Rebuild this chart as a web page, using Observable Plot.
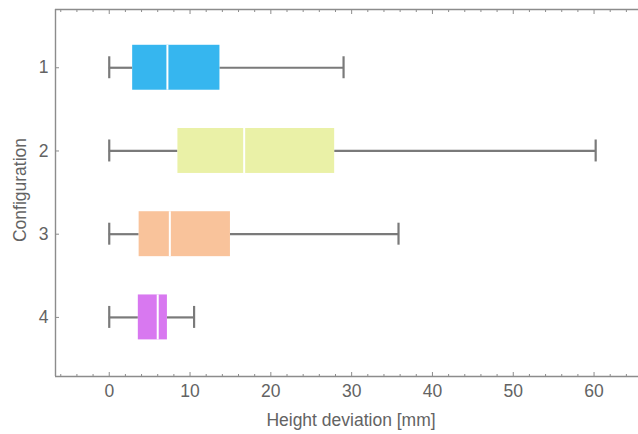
<!DOCTYPE html>
<html>
<head>
<meta charset="utf-8">
<script src="https://cdn.jsdelivr.net/npm/d3@7"></script>
<script src="https://cdn.jsdelivr.net/npm/@observablehq/plot@0.6"></script>
<style>
  html, body { margin: 0; padding: 0; background: #fff; }
</style>
</head>
<body>
<div id="chart"></div>
<script>
// Data
const configs = [1, 2, 3, 4];
const mins = [0, 0, 0, 0];
const q1s = [2.9, 8.5, 3.7, 3.6];
const medians = [7.2, 16.7, 7.5, 6.0];
const q3s = [13.7, 27.9, 15.0, 7.2];
const maxs = [29.0, 60.2, 35.8, 10.5];
const colors = ["#36b6ef", "#eaf1a7", "#f9c39b", "#d878f0"];

const xMajorTicks = [0, 10, 20, 30, 40, 50, 60];
const xMinorTicks = [-6, -4, -2, 2, 4, 6, 8, 12, 14, 16, 18, 22, 24, 26, 28, 32, 34, 36, 38, 42, 44, 46, 48, 52, 54, 56, 58, 62, 64];
const yTicks = [1, 2, 3, 4];

const xTitle = "Height deviation [mm]";
const yTitle = "Configuration";

const data = configs.map((c, i) => ({
  cfg: c, min: mins[i], q1: q1s[i], median: medians[i], q3: q3s[i], max: maxs[i], color: colors[i]
}));

const xDomain = [-6.65, 65.5];
const yDomain = [4.71, 0.3];
const boxHalf = 0.27;
const capHalf = 0.132;
const axisColor = "#8c8c8c";
const textColor = "#636363";
const whiskerColor = "#7a7a7a";
const fs = 17.5;

const chart = Plot.plot({
  width: 638,
  height: 434,
  marginLeft: 55,
  marginRight: 0,
  marginTop: 9,
  marginBottom: 58,
  style: { fontFamily: "'Liberation Sans', Arial, sans-serif", fontSize: fs + "px", background: "#fff" },
  x: { domain: xDomain, axis: null },
  y: { domain: yDomain, axis: null },
  color: { type: "identity" },
  marks: [
    // whiskers
    Plot.ruleY(data, { y: "cfg", x1: "min", x2: "q1", stroke: whiskerColor, strokeWidth: 2.2 }),
    Plot.ruleY(data, { y: "cfg", x1: "q3", x2: "max", stroke: whiskerColor, strokeWidth: 2.2 }),
    // caps
    Plot.ruleX(data, { x: "min", y1: d => d.cfg - capHalf, y2: d => d.cfg + capHalf, stroke: whiskerColor, strokeWidth: 2.2 }),
    Plot.ruleX(data, { x: "max", y1: d => d.cfg - capHalf, y2: d => d.cfg + capHalf, stroke: whiskerColor, strokeWidth: 2.2 }),
    // boxes
    Plot.rect(data, { x1: "q1", x2: "q3", y1: d => d.cfg - boxHalf, y2: d => d.cfg + boxHalf, fill: "color" }),
    // medians
    Plot.ruleX(data, { x: "median", y1: d => d.cfg - boxHalf, y2: d => d.cfg + boxHalf, stroke: "white", strokeWidth: 2 }),
    // frame lines (open right)
    Plot.ruleX([xDomain[0]], { stroke: axisColor, strokeWidth: 1.4 }),
    Plot.ruleY([yDomain[0]], { stroke: axisColor, strokeWidth: 1.4 }),
    Plot.ruleY([yDomain[1]], { stroke: axisColor, strokeWidth: 1.4 }),
    // bottom ticks
    Plot.axisX({ anchor: "bottom", ticks: xMajorTicks, tickSize: -4, tickFormat: () => "", label: null, stroke: axisColor }),
    Plot.axisX({ anchor: "bottom", ticks: xMinorTicks, tickSize: -2, tickFormat: () => "", label: null, stroke: axisColor }),
    // top ticks
    Plot.axisX({ anchor: "top", ticks: xMajorTicks, tickSize: -4, tickFormat: () => "", label: null, stroke: axisColor }),
    Plot.axisX({ anchor: "top", ticks: xMinorTicks, tickSize: -2, tickFormat: () => "", label: null, stroke: axisColor }),
    // bottom labels
    Plot.axisX({ anchor: "bottom", ticks: xMajorTicks, tickSize: 0, tickPadding: 8, tickFormat: d3.format("d"), label: null, fill: textColor }),
    // y ticks + labels
    Plot.axisY({ anchor: "left", ticks: yTicks, tickSize: -4, tickFormat: () => "", label: null, stroke: axisColor }),
    Plot.axisY({ anchor: "left", ticks: yTicks, tickSize: 0, tickPadding: 7, tickFormat: d3.format("d"), label: null, fill: textColor }),
    // titles
    Plot.text([xTitle], { text: d => d, frameAnchor: "bottom", textAnchor: "middle", lineAnchor: "middle", dy: 44, dx: 4, fill: textColor, fontSize: fs }),
    Plot.text([yTitle], { text: d => d, frameAnchor: "left", textAnchor: "middle", lineAnchor: "middle", rotate: -90, dx: -35, dy: -3, fill: textColor, fontSize: fs })
  ]
});

document.getElementById("chart").appendChild(chart);
</script>
</body>
</html>
